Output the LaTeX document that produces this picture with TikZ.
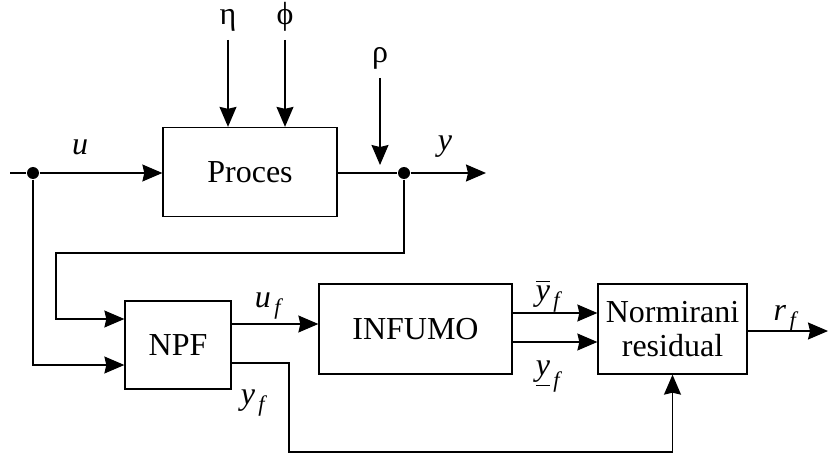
\documentclass[tikz,border=0pt]{standalone}
\usepackage{fontspec}
\usepackage{amsmath}
\setmainfont{Liberation Serif}
\usetikzlibrary{calc, arrows.meta, positioning}

\begin{document}
\begin{tikzpicture}[x=1pt, y=-1pt, line width=1.3pt,
    blok/.style={draw, minimum width=#1, minimum height=89pt, inner sep=0pt,
        align=center, font=\fontsize{32}{34}\selectfont},
    lbl/.style={anchor=base, inner sep=0pt, font=\fontsize{32}{34}\selectfont},
    dot/.style={circle, fill, inner sep=0pt, minimum size=12pt},
    arr/.style={-{Stealth[length=20pt, width=17pt, inset=2pt]}}]

        \useasboundingbox (0,0) rectangle (829,457);

        % ==========================================
        % Blocks
        % ==========================================
        \node[blok=174pt] (proc) at (250,172) {Proces};
        \node[blok=106pt, minimum height=88pt] (npf) at (178,345) {NPF};
        \node[blok=193pt, minimum height=90pt] (inf) at (415.5,329) {INFUMO};
        \node[blok=149pt, minimum height=90pt] (norm) at (672.5,329) {Normirani\\residual};

        % branch points and free ends
        \coordinate (in) at (10,173);
        \node[dot] (din) at (33,173) {};
        \node[dot] (dout) at (404,173) {};
        \coordinate (yout) at (486,173);
        \coordinate (eta) at (228,40);
        \coordinate (phi) at (285,40);
        \coordinate (rho) at (380,78);
        \coordinate (rhoend) at (380,165);
        \coordinate (fb) at (56,253);
        \coordinate (ydown) at (289,452);
        \coordinate (rout) at (828,331);

        % ==========================================
        % Upper part: process with disturbances
        % ==========================================
        \draw (in) -- (din);
        \draw[arr] (din) -- (din -| proc.west);
        \draw[arr] (eta) -- (eta |- proc.north);
        \draw[arr] (phi) -- (phi |- proc.north);
        \draw[arr] (rho) -- (rhoend);
        \draw (proc.east |- dout) -- (dout);
        \draw[arr] (dout) -- (yout);

        \node[lbl] (leta) at (228,25) {η};
        \node[lbl] (lphi) at (285,25) {ϕ};
        \node[lbl] (lrho) at (380,63) {ρ};
        \node[lbl] (lu) at (80,155) {\textit{u}};
        \node[lbl] (ly) at (445,151) {\textit{y}};

        % ==========================================
        % Lower part: filter, INFUMO, residual
        % ==========================================
        \draw[arr] (dout) |- (fb) |- ($(npf.west)+(0,-26)$);
        \draw[arr] (din) |- ($(npf.west)+(0,20)$);
        \draw[arr] ($(npf.east)+(0,-21)$) coordinate (uf) -- (uf -| inf.west);
        \draw[arr] ($(inf.east)+(0,-16)$) coordinate (yb) -- (yb -| norm.west);
        \draw[arr] ($(inf.east)+(0,13)$) coordinate (yl) -- (yl -| norm.west);
        \draw[arr] ($(npf.east)+(0,18)$) -| (ydown) -| (norm.south);
        \draw[arr] (norm.east |- rout) -- (rout);

        \node[lbl] (luf) at (268,307) {$\textit{u}_{\,\textit{f}}$};
        \node[lbl] (lyf) at (253,404) {$\textit{y}_{\,\textit{f}}$};
        \node[lbl] (lyb) at (548,300) {$\overline{\textit{y}}_{\,\textit{f}}$};
        \node[lbl] (lyl) at (548,375) {$\underline{\textit{y}}_{\,\textit{f}}$};
        \node[lbl] (lrf) at (785,320) {$\textit{r}_{\,\textit{f}}$};

\end{tikzpicture}
\end{document}
